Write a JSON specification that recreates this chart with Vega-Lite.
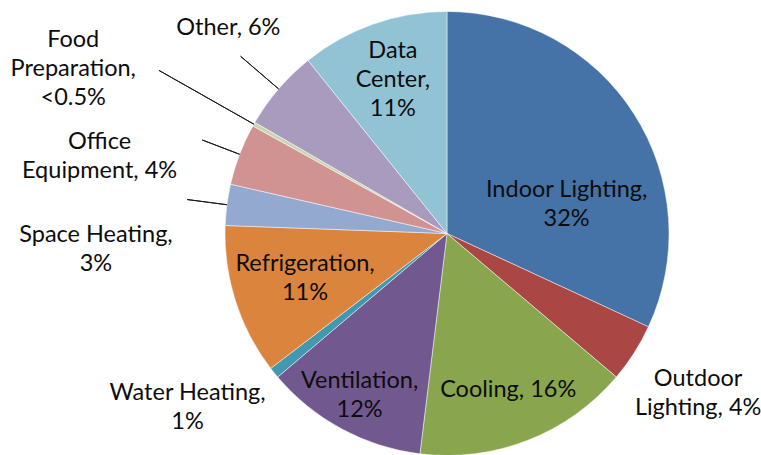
{
  "$schema": "https://vega.github.io/schema/vega-lite/v6.json",
  "width": 628,
  "height": 445,
  "autosize": "none",
  "padding": {"left": 133, "top": 11, "right": 0, "bottom": 0},
  "background": "#ffffff",
  "view": {"stroke": null},
  "config": {"text": {"font": "Lato", "fontSize": 23.5, "fill": "#0d0d0d", "lineBreak": "\n", "lineHeight": 29, "align": "center", "baseline": "middle"}},
  "data": {"values": [
    {"category": "Indoor Lighting", "value": 32, "label": "Indoor Lighting,\n32%"},
    {"category": "Outdoor Lighting", "value": 4.3, "label": "Outdoor\nLighting, 4%"},
    {"category": "Cooling", "value": 15.8, "label": "Cooling, 16%"},
    {"category": "Ventilation", "value": 11.9, "label": "Ventilation,\n12%"},
    {"category": "Water Heating", "value": 0.8, "label": "Water Heating,\n1%"},
    {"category": "Refrigeration", "value": 11, "label": "Refrigeration,\n11%"},
    {"category": "Space Heating", "value": 3, "label": "Space Heating,\n3%"},
    {"category": "Office Equipment", "value": 4.5, "label": "Office\nEquipment, 4%"},
    {"category": "Food Preparation", "value": 0.3, "label": "Food\nPreparation,\n<0.5%"},
    {"category": "Other", "value": 5.9, "label": "Other, 6%"},
    {"category": "Data Center", "value": 10.8, "label": "Data\nCenter,\n11%"}
  ]},
  "transform": [
    {"window": [{"op": "sum", "field": "value", "as": "cum"}], "frame": [null, 0]},
    {"calculate": "datum.cum - datum.value", "as": "start"},
    {"calculate": "datum.cum - datum.value / 2", "as": "mid"}
  ],
  "layer": [
    {
      "mark": {"type": "arc", "radius": 222, "stroke": "#ffffff", "strokeWidth": 0.8, "strokeOpacity": 0.6},
      "encoding": {
        "theta": {"field": "start", "type": "quantitative", "stack": null, "scale": {"domain": [0, 100.3]}},
        "theta2": {"field": "cum"},
        "color": {"field": "category", "type": "nominal", "legend": null,
          "scale": {
            "domain": ["Indoor Lighting", "Outdoor Lighting", "Cooling", "Ventilation", "Water Heating", "Refrigeration", "Space Heating", "Office Equipment", "Food Preparation", "Other", "Data Center"],
            "range": ["#4572A7", "#AA4643", "#89A54E", "#71588F", "#4198AF", "#DB843D", "#93A9CF", "#D19392", "#C9D6B4", "#A99BBD", "#92C3D5"]
          }}
      }
    },
    {
      "transform": [{"filter": "datum.category === 'Other'"}],
      "mark": {"type": "arc", "radius": 272, "radius2": 222, "fill": "transparent", "stroke": "#1a1a1a", "strokeWidth": 1},
      "encoding": {"theta": {"field": "mid", "type": "quantitative", "stack": null}, "theta2": {"field": "mid"}}
    },
    {
      "transform": [{"filter": "datum.category === 'Food Preparation'"}],
      "mark": {"type": "arc", "radius": 331, "radius2": 222, "fill": "transparent", "stroke": "#1a1a1a", "strokeWidth": 1},
      "encoding": {"theta": {"field": "mid", "type": "quantitative", "stack": null}, "theta2": {"field": "mid"}}
    },
    {
      "transform": [{"filter": "datum.category === 'Office Equipment' || datum.category === 'Space Heating'"}],
      "mark": {"type": "arc", "radius": 262, "radius2": 222, "fill": "transparent", "stroke": "#1a1a1a", "strokeWidth": 1},
      "encoding": {"theta": {"field": "mid", "type": "quantitative", "stack": null}, "theta2": {"field": "mid"}}
    },
    {
      "transform": [{"filter": "datum.category === 'Data Center'"}],
      "mark": {"type": "text", "radius": 163, "dy": -29},
      "encoding": {"theta": {"field": "mid", "type": "quantitative", "stack": null}, "text": {"field": "label"}}
    },
    {
      "transform": [{"filter": "datum.category === 'Cooling'"}],
      "mark": {"type": "text", "radius": 168},
      "encoding": {"theta": {"field": "mid", "type": "quantitative", "stack": null}, "text": {"field": "label"}}
    },
    {
      "transform": [{"filter": "datum.category === 'Ventilation'"}],
      "mark": {"type": "text", "radius": 184, "dy": -14.5},
      "encoding": {"theta": {"field": "mid", "type": "quantitative", "stack": null}, "text": {"field": "label"}}
    },
    {
      "transform": [{"filter": "datum.category === 'Refrigeration'"}],
      "mark": {"type": "text", "radius": 149, "dy": -14.5},
      "encoding": {"theta": {"field": "mid", "type": "quantitative", "stack": null}, "text": {"field": "label"}}
    },
    {
      "transform": [{"filter": "datum.category === 'Outdoor Lighting'"}],
      "mark": {"type": "text", "radius": 298, "dy": -14.5},
      "encoding": {"theta": {"field": "mid", "type": "quantitative", "stack": null}, "text": {"field": "label"}}
    },
    {
      "transform": [{"filter": "datum.category === 'Indoor Lighting'"}],
      "mark": {"type": "text", "radius": 123, "dx": 16, "dy": 22.5},
      "encoding": {"theta": {"field": "mid", "type": "quantitative", "stack": null}, "text": {"field": "label"}}
    },
    {
      "transform": [{"filter": "datum.category === 'Water Heating'"}],
      "mark": {"type": "text", "radius": 310, "dx": -18, "dy": -34.5},
      "encoding": {"theta": {"field": "mid", "type": "quantitative", "stack": null}, "text": {"field": "label"}}
    },
    {
      "transform": [{"filter": "datum.category === 'Space Heating'"}],
      "mark": {"type": "text", "radius": 352, "dx": -2, "dy": 47.5},
      "encoding": {"theta": {"field": "mid", "type": "quantitative", "stack": null}, "text": {"field": "label"}}
    },
    {
      "transform": [{"filter": "datum.category === 'Office Equipment'"}],
      "mark": {"type": "text", "radius": 358, "dx": -13, "dy": 36.5},
      "encoding": {"theta": {"field": "mid", "type": "quantitative", "stack": null}, "text": {"field": "label"}}
    },
    {
      "transform": [{"filter": "datum.category === 'Food Preparation'"}],
      "mark": {"type": "text", "radius": 410, "dx": -17, "dy": 9},
      "encoding": {"theta": {"field": "mid", "type": "quantitative", "stack": null}, "text": {"field": "label"}}
    },
    {
      "transform": [{"filter": "datum.category === 'Other'"}],
      "mark": {"type": "text", "radius": 300, "dx": 9, "dy": -10},
      "encoding": {"theta": {"field": "mid", "type": "quantitative", "stack": null}, "text": {"field": "label"}}
    }
  ]
}
